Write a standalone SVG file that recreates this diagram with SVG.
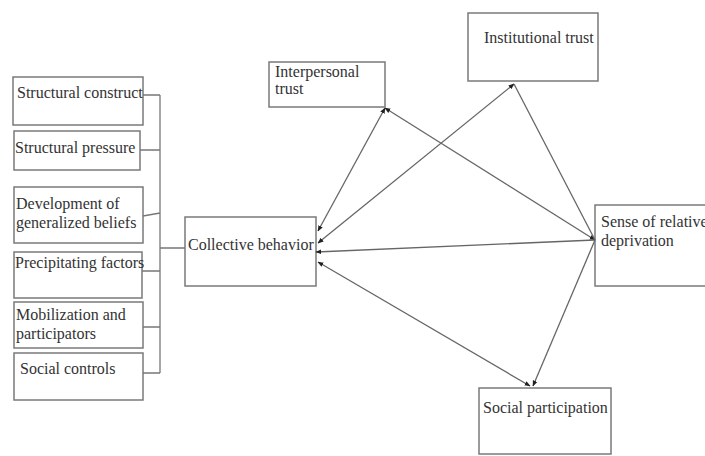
<svg xmlns="http://www.w3.org/2000/svg" width="705" height="456" viewBox="0 0 705 456">
<style>
.box{fill:#fff;stroke:#7a7a7a;stroke-width:1.5}
.t{font-family:"Liberation Serif","Times New Roman",serif;font-size:16px;fill:#333}
.br{stroke:#777;stroke-width:1.3;fill:none}
.c{stroke:#666;stroke-width:1.3;fill:none}
</style>
<defs>
<marker id="ah" viewBox="0 0 10 10" refX="9" refY="5" markerWidth="6" markerHeight="6" orient="auto-start-reverse" markerUnits="userSpaceOnUse">
<path d="M0,1 L10,5 L0,9 Z" fill="#222"/>
</marker>
</defs>
<rect width="705" height="456" fill="#fff"/>
<g id="structural-construct"><rect class="box" x="13" y="77" width="130" height="48"/><text class="t" x="17" y="98">Structural construct</text></g>
<g id="structural-pressure"><rect class="box" x="14" y="131" width="126" height="39"/><text class="t" x="15" y="153">Structural pressure</text></g>
<g id="development"><rect class="box" x="14" y="187" width="129" height="56"/><text class="t" x="16" y="209">Development of</text><text class="t" x="16" y="228">generalized beliefs</text></g>
<g id="precipitating"><rect class="box" x="14" y="252" width="128" height="46"/><text class="t" x="15" y="268">Precipitating factors</text></g>
<g id="mobilization"><rect class="box" x="14" y="302" width="129" height="46"/><text class="t" x="16" y="320">Mobilization and</text><text class="t" x="16" y="339">participators</text></g>
<g id="social-controls"><rect class="box" x="14" y="353" width="129" height="47"/><text class="t" x="20" y="374">Social controls</text></g>
<g id="collective-behavior"><rect class="box" x="185" y="217" width="131" height="69"/><text class="t" x="188" y="250">Collective behavior</text></g>
<g id="interpersonal-trust"><rect class="box" x="269" y="62" width="116" height="45"/><text class="t" x="275" y="77">Interpersonal</text><text class="t" x="275" y="94">trust</text></g>
<g id="institutional-trust"><rect class="box" x="468" y="13" width="130" height="68"/><text class="t" x="484" y="43">Institutional trust</text></g>
<g id="sense-of-relative-deprivation"><rect class="box" x="595" y="205" width="125" height="81"/><text class="t" x="601" y="227">Sense of relative</text><text class="t" x="601" y="246">deprivation</text></g>
<g id="social-participation"><rect class="box" x="479" y="388" width="132" height="66"/><text class="t" x="483" y="413">Social participation</text></g>
<g id="connectors">
<path class="br" d="M143,95 H160 M140,150 H160 M143,216 L160,213 M142,271 H160 M143,327 H160 M143,373 H160 M160,95 V373 M160,248 H185"/>
<line class="c" x1="385" y1="108" x2="318" y2="231" marker-start="url(#ah)" marker-end="url(#ah)"/>
<line class="c" x1="385" y1="108" x2="595" y2="240" marker-start="url(#ah)" marker-end="url(#ah)"/>
<line class="c" x1="514" y1="84" x2="318" y2="243" marker-start="url(#ah)" marker-end="url(#ah)"/>
<line class="c" x1="514" y1="84" x2="595" y2="240"/>
<line class="c" x1="595" y1="240" x2="316" y2="252" marker-end="url(#ah)"/>
<line class="c" x1="318" y1="262" x2="530" y2="386" marker-start="url(#ah)" marker-end="url(#ah)"/>
<line class="c" x1="595" y1="240" x2="533" y2="386" marker-end="url(#ah)"/>
</g>
</svg>
